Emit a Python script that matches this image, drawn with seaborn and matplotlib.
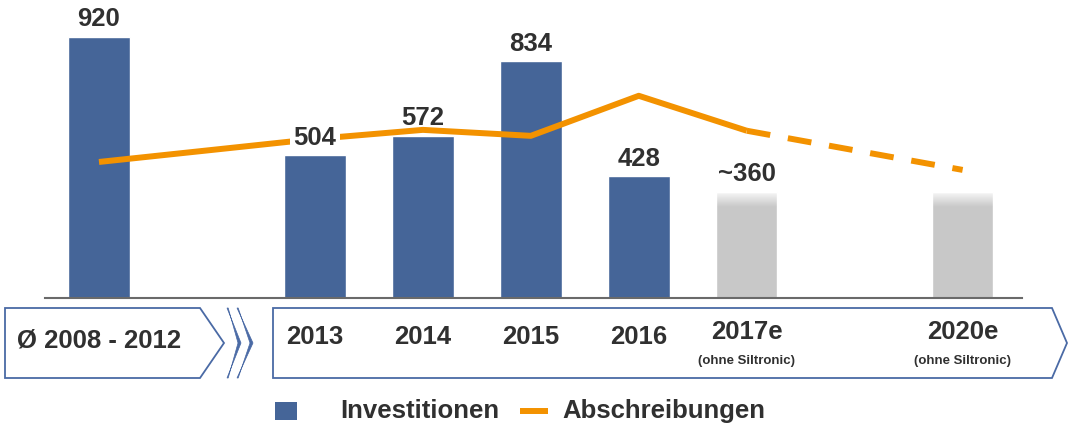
import numpy as np
import pandas as pd
import matplotlib
matplotlib.use("Agg")
import matplotlib.pyplot as plt
import seaborn as sns
from matplotlib.patches import Polygon, Rectangle
from matplotlib.lines import Line2D
from matplotlib.transforms import blended_transform_factory

# data
periods = ["Ø 2008 - 2012", "2013", "2014", "2015", "2016", "2017e", "2020e"]
subtitles = ["", "", "", "", "", "(ohne Siltronic)", "(ohne Siltronic)"]
investitionen = [920, 504, 572, 834, 428, 375, 375]
bar_labels = ["920", "504", "572", "834", "428", "~360", ""]
abschreibungen = [479, 560, 592, 571, 712, 589, 451]
estimate = [False, False, False, False, False, True, True]

# category slots incl. the two empty gaps
order = ["Ø 2008 - 2012", " ", "2013", "2014", "2015", "2016", "2017e", "  ", "2020e"]

BLUE = "#456598"
GREY = "#c8c8c8"
ORANGE = "#f39200"
TEXT = "#303030"
FRAME = "#4a6aa5"
FS = 18.5

sns.set_style("white")
plt.rcParams["font.family"] = ["Liberation Sans", "DejaVu Sans"]
plt.rcParams["font.weight"] = "bold"

df = pd.DataFrame({"period": periods, "value": investitionen})
palette = {p: (GREY if e else BLUE) for p, e in zip(periods, estimate)}

W, H = 1068, 429
fig = plt.figure(figsize=(W / 100, H / 100), dpi=100)
ax = fig.add_axes([45 / W, 1 - 298 / H, (1022 - 45) / W, (298 - 14) / H])
ax.patch.set_visible(False)

bw = 0.57
sns.barplot(data=df, x="period", y="value", hue="period", order=order,
            palette=palette, width=bw, legend=False, saturation=1, ax=ax)

pos = [order.index(p) for p in periods]

# white fade on top of the estimate bars
fade = np.ones((40, 1, 4))
fade[:, 0, 3] = np.linspace(0.92, 0.0, 40)
for x, v, e in zip(pos, investitionen, estimate):
    if e:
        ax.imshow(fade, extent=[x - bw / 2, x + bw / 2, v - 55, v], aspect="auto",
                  origin="upper", zorder=3, interpolation="bilinear")

# depreciation line: solid up to 2017e, dashed to 2020e
sns.lineplot(x=pos[:6], y=abschreibungen[:6], color=ORANGE, lw=4.3, sort=False,
             ax=ax, zorder=4, solid_capstyle="butt")
sns.lineplot(x=pos[5:], y=abschreibungen[5:], color=ORANGE, lw=4.3, sort=False,
             ax=ax, zorder=4, linestyle=(0, (4.0, 3.0)), dash_capstyle="butt")

for x, v, lab in zip(pos, investitionen, bar_labels):
    if not lab:
        continue
    kw = {}
    if lab == "504":
        kw["bbox"] = dict(boxstyle="square,pad=0.15", fc="white", ec="none")
    ax.annotate(lab, (x, v), xytext=(0, 12.5), textcoords="offset points",
                ha="center", va="center", fontsize=FS, fontweight="bold",
                color=TEXT, zorder=5, **kw)

ax.set_xlim(-0.5, 8.55)
ax.set_ylim(0, 1000)
ax.set_xlabel("")
ax.set_ylabel("")
ax.set_xticks([])
ax.set_yticks([])
for s in ["left", "right", "top"]:
    ax.spines[s].set_visible(False)
ax.spines["bottom"].set_color("#6a6a6a")
ax.spines["bottom"].set_linewidth(1.5)

# period labels under the axis
tr = blended_transform_factory(ax.transData, fig.transFigure)
for x, p, sub, e in zip(pos, periods, subtitles, estimate):
    if p.startswith("Ø"):
        y = 341
    elif e:
        y = 332
    else:
        y = 337
    ax.text(x, 1 - y / H, p, transform=tr, ha="center", va="center",
            fontsize=FS, fontweight="bold", color=TEXT, clip_on=False)
    if sub:
        ax.text(x, 1 - 361 / H, sub, transform=tr, ha="center", va="center",
                fontsize=9.5, fontweight="bold", color=TEXT, clip_on=False)

# arrow frames, in pixel coordinates
ov = fig.add_axes([0, 0, 1, 1], zorder=-1)
ov.set_xlim(0, W)
ov.set_ylim(H, 0)
ov.axis("off")
ov.add_patch(Polygon([(5, 308), (200, 308), (224, 343), (200, 378), (5, 378)],
                     closed=True, fc="white", ec=FRAME, lw=1.3))
for x0, dx in [(227, 14), (237, 16)]:
    ov.add_patch(Polygon([(x0, 308), (x0 + dx, 343), (x0, 378),
                          (x0 + 1.2, 378), (x0 + dx - 3, 343), (x0 + 1.2, 308)],
                         closed=True, fc=FRAME, ec=FRAME, lw=0.5))
ov.add_patch(Polygon([(273, 308), (1052, 308), (1067, 343), (1052, 378), (273, 378)],
                     closed=True, fc="white", ec=FRAME, lw=1.3))

# legend
ov.add_patch(Rectangle((275, 402), 22, 18, fc=BLUE, ec="none"))
ov.text(340, 411, "Investitionen", ha="left", va="center", fontsize=FS,
        fontweight="bold", color=TEXT)
ov.add_line(Line2D([520, 548], [411, 411], color=ORANGE, lw=4.3, solid_capstyle="butt"))
ov.text(562, 411, "Abschreibungen", ha="left", va="center", fontsize=FS,
        fontweight="bold", color=TEXT)

fig.savefig("out.png", dpi=100)
